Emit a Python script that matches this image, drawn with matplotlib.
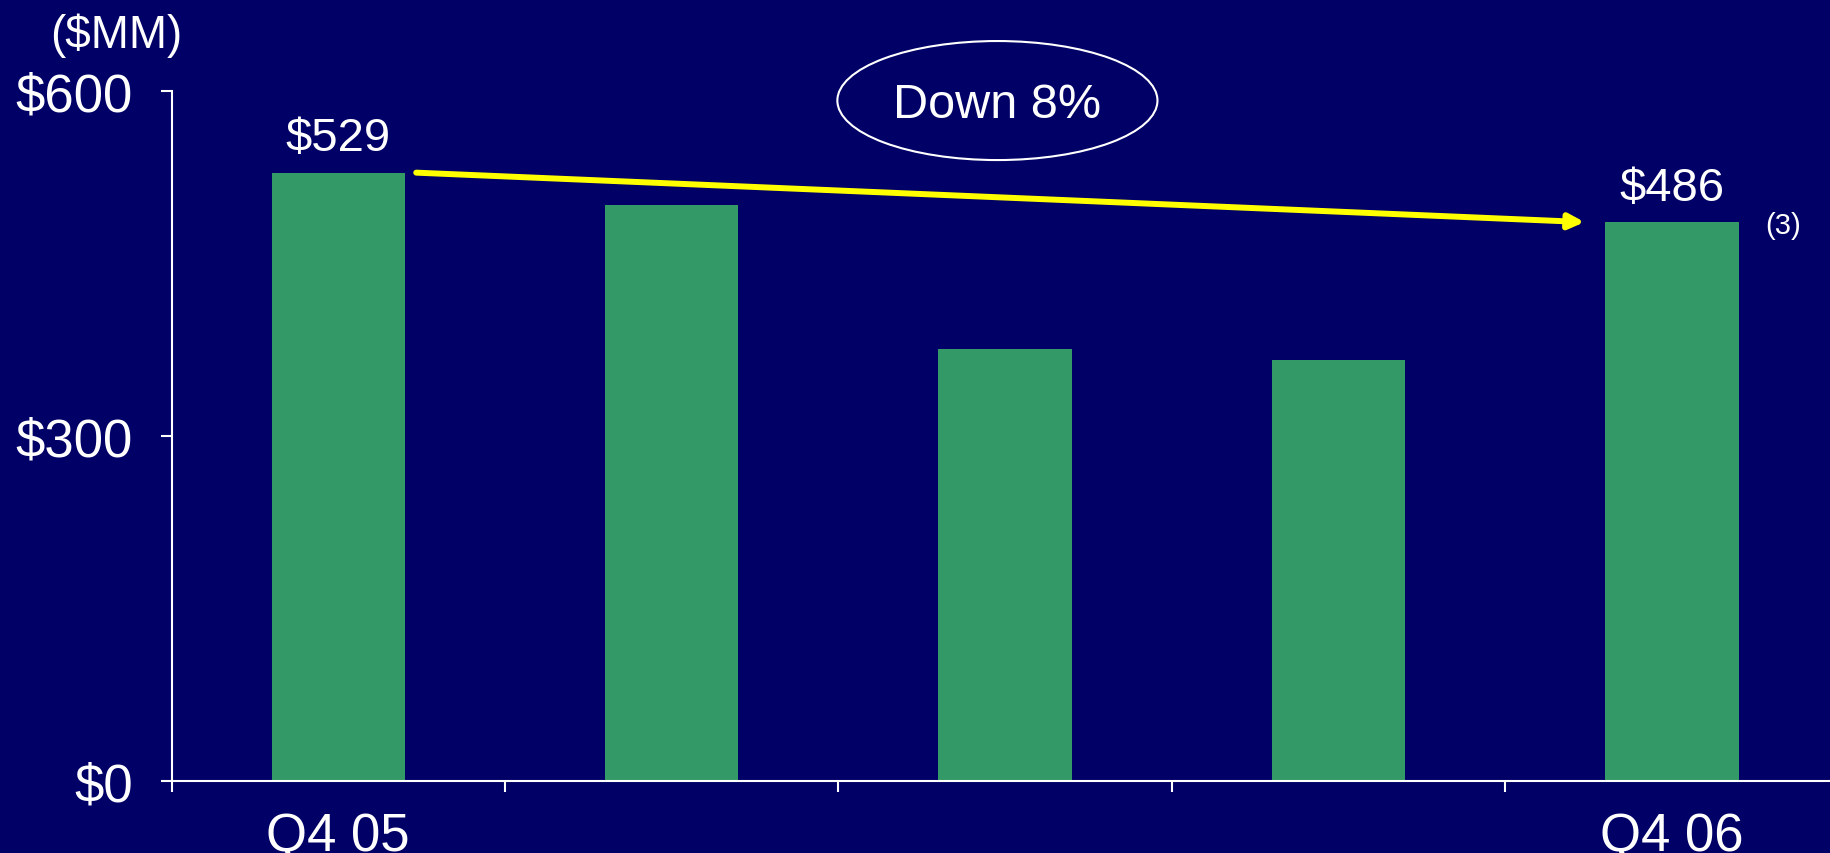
import matplotlib.pyplot as plt
from matplotlib.patches import Ellipse

plt.rcParams['font.family'] = ['Liberation Sans', 'DejaVu Sans']

quarters = ['Q4 05', '', '', '', 'Q4 06']
values = [529, 501, 376, 366, 486]
yticks = [0, 300, 600]

navy = '#000066'
green = '#339966'

fig = plt.figure(figsize=(18.3, 8.54), dpi=100, facecolor=navy)
ax = fig.add_axes([171.5 / 1830, 72 / 854, 1 - 171.5 / 1830, 690 / 854])
ax.set_facecolor(navy)

x = list(range(len(values)))
ax.bar(x, values, width=0.4, color=green, linewidth=0, zorder=2)

ax.set_xlim(-0.5, 4.474)
ax.set_ylim(0, 600)

# ticks sit on the category boundaries, labels under the bars
ax.set_xticks([i - 0.5 for i in x])
ax.set_xticklabels([])
ax.set_xticks(x, minor=True)
ax.set_xticklabels(quarters, minor=True)
ax.tick_params(axis='x', which='major', direction='out', length=8, width=1.5, color='white')
ax.tick_params(axis='x', which='minor', length=0, pad=22, labelsize=38, labelcolor='white')

ax.set_yticks(yticks)
ax.set_yticklabels(['$%d' % v for v in yticks])
ax.tick_params(axis='y', direction='out', length=8, width=1.5, color='white',
               pad=20, labelsize=38, labelcolor='white')

for s in ['top', 'right']:
    ax.spines[s].set_visible(False)
for s in ['left', 'bottom']:
    ax.spines[s].set_color('white')
    ax.spines[s].set_linewidth(1.5)

# value labels on first and last bar
for i in [0, 4]:
    ax.annotate('$%d' % values[i], xy=(i, values[i]), xytext=(0, 16),
                textcoords='offset points', ha='center', va='baseline',
                fontsize=34, color='white', annotation_clip=False)

ax.annotate('(3)', xy=(4, values[4]), xytext=(80, -2), textcoords='offset points',
            ha='center', va='center', fontsize=21, color='white',
            annotation_clip=False)

# trend arrow from first to last bar
ax.annotate('', xy=(4 - 0.262, values[4]), xytext=(0.234, values[0]),
            arrowprops=dict(arrowstyle='-|>,head_length=0.45,head_width=0.22',
                            color='#FFFF00', lw=4.3, mutation_scale=20,
                            shrinkA=0, shrinkB=0),
            annotation_clip=False)

ell = Ellipse((1.977, 591.7), 0.96, 103.5, fill=False, edgecolor='white',
              lw=1.5, clip_on=False)
ax.add_patch(ell)
ax.text(1.977, 588, 'Down 8%', ha='center', va='center', fontsize=35,
        color='white', clip_on=False)

fig.text(116 / 1830, 1 - 36 / 854, '($MM)', ha='center', va='center',
         fontsize=33, color='white')

fig.savefig('out.png', dpi=100, facecolor=navy)
